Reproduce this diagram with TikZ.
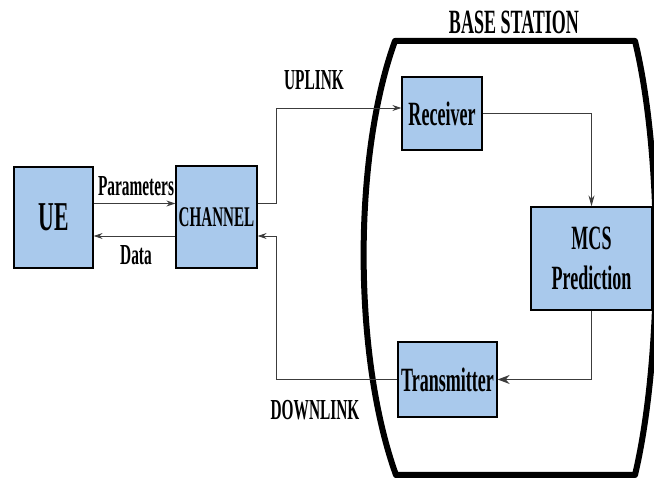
\documentclass[tikz,border=0pt]{standalone}
\usepackage{fontspec}
\setmainfont{Liberation Serif}[FakeStretch=0.53]
\usetikzlibrary{arrows.meta}
\definecolor{boxblue}{RGB}{169,201,236}
\definecolor{wiregray}{RGB}{60,60,60}

\begin{document}
\begin{tikzpicture}[x=1pt,y=1pt,
  blockbox/.style={draw=black,line width=1.3pt,fill=boxblue,inner sep=0pt,
    font=\bfseries\fontsize{34}{40}\selectfont,align=center},
  lbl/.style={inner sep=0pt,font=\bfseries\fontsize{29}{30}\selectfont},
  arr/.style={draw=wiregray,line width=0.9pt,-{Stealth[length=9pt,width=6pt]}},
  wire/.style={draw=wiregray,line width=0.9pt}]
  \useasboundingbox (0,0) rectangle (654,486);

% base station outline
  \draw[line width=6pt,line join=round] (395,445) -- (635,445)
    .. controls (663,330) and (663,130) .. (635,11) -- (396,11)
    .. controls (353,130) and (353,330) .. cycle;
  \node[lbl,font=\bfseries\fontsize{34}{36}\selectfont] (bs) at (514,464) {BASE STATION};

% blocks
  \node[blockbox,minimum width=79,minimum height=101,font=\bfseries\fontsize{41}{44}\selectfont] (ue) at (53.5,268.5) {UE};
  \node[blockbox,minimum width=81,minimum height=102,font=\bfseries\fontsize{28.5}{30}\selectfont] (chan) at (216.5,269) {CHANNEL};
  \node[blockbox,minimum width=80,minimum height=73] (rx) at (442,372.5) {Receiver};
  \node[blockbox,minimum width=121,minimum height=103] (mcs) at (591.5,227.5) {MCS\\Prediction};
  \node[blockbox,minimum width=99,minimum height=75] (tx) at (447.5,106.5) {Transmitter};

% UE <-> channel
  \draw[arr] ([yshift=14pt]ue.east) -- ([yshift=14pt]ue.east -| chan.west);
  \draw[arr] ([yshift=-19pt]chan.west) -- ([yshift=-19pt]chan.west -| ue.east);
  \node[lbl] (par) at (136,300) {Parameters};
  \node[lbl] (dat) at (136,231) {Data};

% uplink
  \draw[arr] ([yshift=14pt]chan.east) -- ++(19,0) |- ([yshift=5.5pt]rx.west);
  \node[lbl] (up) at (314,406) {UPLINK};

% base station chain
  \draw[arr,-{Stealth[length=11pt,width=6pt]}] (rx.east) -| (mcs.north);
  \draw[arr,line width=1.2pt,-{Stealth[length=12pt,width=9pt]}] (mcs.south) |- (tx.east);

% downlink
  \draw[arr] (tx.west) -| ([xshift=19pt,yshift=-19pt]chan.east) -- ([yshift=-19pt]chan.east);
  \node[lbl] (down) at (315,76) {DOWNLINK};

\end{tikzpicture}
\end{document}
